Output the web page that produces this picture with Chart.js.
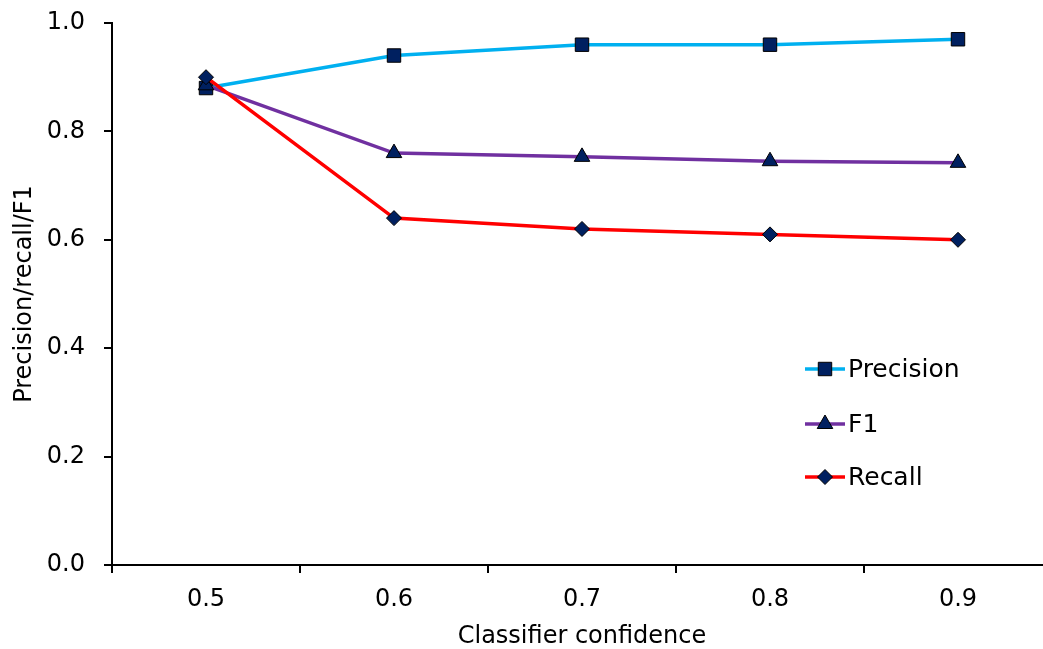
<!DOCTYPE html>
<html>
<head>
<meta charset="utf-8">
<script src="https://cdn.jsdelivr.net/npm/chart.js@4/dist/chart.umd.min.js"></script>
<style>
    body { margin: 0; background: #fff; overflow: hidden; }
    #wrap { width: 1043px; height: 649px; position: relative; }
    #prfChart { display: block; }
</style>
</head>
<body>
<div id="wrap"><canvas id="prfChart" width="1043" height="649"></canvas></div>
<script>
// values
const confidence = ['0.5', '0.6', '0.7', '0.8', '0.9'];
const precision = [0.88, 0.94, 0.96, 0.96, 0.97];
const f1 = [0.885, 0.76, 0.753, 0.745, 0.742];
const recall = [0.90, 0.64, 0.62, 0.61, 0.60];
const yTicks = [0, 0.2, 0.4, 0.6, 0.8, 1.0];

const seriesNames = ['Precision', 'F1', 'Recall'];
const lineColors = ['#00B0F0', '#7030A0', '#FF0000'];
const markerShapes = ['rect', 'triangle', 'rectRot'];
const markerSizes = [9.5, 9, 7.5];
const markerFill = '#002060';
const font = "'DejaVu Sans', Verdana, sans-serif";

function makeDataset(i, values, order) {
    return {
        label: seriesNames[i],
        data: values,
        borderColor: lineColors[i],
        backgroundColor: markerFill,
        borderWidth: 3.5,
        pointStyle: markerShapes[i],
        pointRadius: markerSizes[i],
        pointBackgroundColor: markerFill,
        pointBorderColor: '#000',
        pointBorderWidth: 1,
        tension: 0,
        order: order
    };
}

// small marker drawer for the legend
function drawMarker(ctx, shape, r, x, y) {
    ctx.beginPath();
    if (shape === 'rect') {
        const s = r * Math.SQRT1_2;
        ctx.rect(x - s, y - s, 2 * s, 2 * s);
    } else if (shape === 'triangle') {
        ctx.moveTo(x, y - r);
        ctx.lineTo(x + r * Math.sin(Math.PI / 3), y + r / 2);
        ctx.lineTo(x - r * Math.sin(Math.PI / 3), y + r / 2);
        ctx.closePath();
    } else {
        ctx.moveTo(x - r, y);
        ctx.lineTo(x, y - r);
        ctx.lineTo(x + r, y);
        ctx.lineTo(x, y + r);
        ctx.closePath();
    }
    ctx.fillStyle = markerFill;
    ctx.fill();
    ctx.lineWidth = 1;
    ctx.strokeStyle = '#000';
    ctx.stroke();
}

// the plot area in the reference runs a few px past the right edge of the picture
const plotRight = 1052;
function widen(chart) {
    const x = chart.scales.x;
    x.right = plotRight;
    x.width = plotRight - x.left;
    chart.chartArea.right = plotRight;
    chart.chartArea.width = plotRight - chart.chartArea.left;
    x.configure();
}
const widenPlot = {
    id: 'widenPlot',
    afterLayout: widen,
    beforeDatasetsUpdate: widen
};

const insideLegend = {
    id: 'insideLegend',
    afterDraw(chart) {
        const ctx = chart.ctx;
        const area = chart.chartArea;
        const x0 = area.right - 247;
        const rows = [369, 424, 477];
        ctx.save();
        seriesNames.forEach((name, i) => {
            const y = rows[i];
            ctx.beginPath();
            ctx.moveTo(x0, y);
            ctx.lineTo(x0 + 40, y);
            ctx.lineWidth = 3.5;
            ctx.strokeStyle = lineColors[i];
            ctx.stroke();
            drawMarker(ctx, markerShapes[i], markerSizes[i], x0 + 20, y);
            ctx.fillStyle = '#000';
            ctx.font = '25px ' + font;
            ctx.textAlign = 'left';
            ctx.textBaseline = 'middle';
            ctx.fillText(name, x0 + 43, y + 1);
        });
        ctx.restore();
    }
};

const ctx = document.getElementById('prfChart').getContext('2d');
new Chart(ctx, {
    type: 'line',
    data: {
        labels: confidence,
        datasets: [
            makeDataset(0, precision, 2),
            makeDataset(1, f1, 1),
            makeDataset(2, recall, 0)
        ]
    },
    options: {
        responsive: false,
        animation: false,
        layout: { padding: { top: 23, left: 10, right: 0, bottom: 0 } },
        plugins: {
            legend: { display: false },
            tooltip: { enabled: false }
        },
        scales: {
            x: {
                type: 'category',
                offset: true,
                afterFit: s => {
                    s.height = 84;
                    s.paddingLeft = 0;
                    s.paddingRight = 0;
                },
                grid: {
                    offset: true,
                    drawOnChartArea: false,
                    drawTicks: true,
                    tickLength: 8,
                    color: '#000',
                    lineWidth: 2
                },
                border: { display: true, color: '#000', width: 2 },
                ticks: {
                    color: '#000',
                    font: { family: font, size: 24 },
                    padding: 12,
                    maxRotation: 0
                },
                title: {
                    display: true,
                    text: 'Classifier confidence',
                    color: '#000',
                    font: { family: font, size: 24, lineHeight: 1.0 },
                    padding: { top: 0, bottom: 0 }
                }
            },
            y: {
                min: 0,
                max: 1,
                afterBuildTicks: axis => {
                    axis.ticks = yTicks.map(v => ({ value: v }));
                },
                afterFit: s => {
                    s.width = 102;
                    s.paddingTop = 0;
                    s.paddingBottom = 0;
                },
                grid: {
                    drawOnChartArea: false,
                    drawTicks: true,
                    tickLength: 8,
                    color: '#000',
                    lineWidth: 2
                },
                border: { display: true, color: '#000', width: 2 },
                ticks: {
                    color: '#000',
                    font: { family: font, size: 24 },
                    padding: 19,
                    callback: v => Number(v).toFixed(1)
                },
                title: {
                    display: true,
                    text: 'Precision/recall/F1',
                    color: '#000',
                    font: { family: font, size: 24 },
                    padding: { top: 0, bottom: 0 }
                }
            }
        }
    },
    plugins: [widenPlot, insideLegend]
});
</script>
</body>
</html>
